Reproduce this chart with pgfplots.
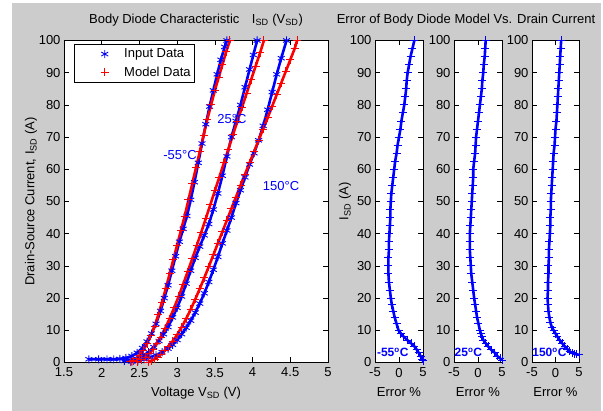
\documentclass[border=0pt]{standalone}
\usepackage{fontspec}
\setmainfont{Liberation Sans}
\usepackage{pgfplots}
\pgfplotsset{compat=1.18}
\definecolor{figgray}{RGB}{204,204,204}
\pgfplotsset{
  matl/.style={
    scale only axis, anchor=south west,
    axis background/.style={fill=white},
    tick align=inside, tick pos=both, ticklabel pos=left,
    major tick length=5pt,
    axis line style={line width=0.6pt},
    every tick/.style={black, line width=0.6pt},
    font=\fontsize{13}{15}\selectfont,
    /pgf/number format/assume math mode=true,
    xticklabel style={yshift=-2pt},
    ymin=0, ymax=100, ytick={0,10,...,100},
    height=322pt,
  },
  inp/.style={blue, mark=asterisk, mark size=4pt, line width=2.6pt, mark options={line width=0.9pt}},
  mdl/.style={red, mark=+, mark size=4pt, line width=2.6pt, mark options={line width=0.9pt}},
  err/.style={blue, mark=+, mark size=4pt, line width=2.6pt, mark options={line width=0.9pt}},
}
\begin{document}
\begin{tikzpicture}[x=1pt,y=1pt]
\useasboundingbox (0pt,0pt) rectangle (603pt,411pt);
\fill[white] (0pt,0pt) rectangle (603pt,411pt);
\fill[figgray] (12pt,0pt) rectangle (601pt,408pt);

\node[font=\fontsize{13}{15}\selectfont] at (196pt,391pt) {Body Diode Characteristic\hspace{9pt} I\textsubscript{SD} (V\textsubscript{SD})};
\node[font=\fontsize{13}{15}\selectfont] at (466pt,391pt) {Error of Body Diode Model Vs. Drain Current};

\begin{axis}[matl, at={(64pt,48.5pt)}, width=264pt,
  xmin=1.5, xmax=5, xtick={1.5,2,...,5},
  xlabel={Voltage V\textsubscript{SD} (V)},
  xlabel style={at={(axis description cs:0.5,-0.106)}, anchor=base},
  ylabel={Drain-Source Current, I\textsubscript{SD} (A)},
  ylabel style={at={(axis description cs:-0.125,0.5)}, anchor=center},
  legend style={at={(axis description cs:0.038,0.989)}, anchor=north west,
    draw=black, fill=white, line width=0.6pt, font=\fontsize{13}{15}\selectfont,
    inner xsep=2pt, inner ysep=2.5pt, row sep=3.5pt, cells={anchor=west}},
  legend image code/.code={\path (0pt,0pt) (45pt,0pt); \draw[#1] plot coordinates {(28pt,0pt)};},
]
\addlegendimage{blue, mark=asterisk, mark size=4pt, line width=0.9pt}
\addlegendentry{Input Data}
\addlegendimage{red, mark=+, mark size=4pt, line width=0.9pt}
\addlegendentry{Model Data}
% -55 C input
\addplot[inp, forget plot] coordinates {
(1.83,1)(1.96,1)(2.07,1)(2.16,1)(2.24,1.1)(2.32,1.4)(2.40,2.0)(2.47,3.0)(2.54,4.5)(2.60,6.5)
(2.66,9)(2.72,12)(2.78,16)(2.83,20)(2.88,24)(2.93,28.5)(2.98,33)(3.03,37.5)(3.08,41.5)(3.13,45.5)
(3.18,50.5)(3.23,56)(3.28,62)(3.33,68)(3.38,74)(3.43,79.5)(3.48,84.5)(3.53,89.5)(3.58,94)(3.63,98)(3.66,100)};
% 25 C input
\addplot[inp, forget plot] coordinates {
(2.30,0.5)(2.38,0.8)(2.46,1.2)(2.54,2.0)(2.62,3.2)(2.69,4.8)(2.76,6.7)(2.82,8.8)(2.88,11)(2.94,14)
(3.00,17)(3.06,20.5)(3.12,24.5)(3.18,28.5)(3.24,32.5)(3.30,36)(3.36,39.5)(3.42,43)(3.48,47.5)(3.54,52.5)
(3.60,58)(3.66,64)(3.72,70)(3.78,75)(3.84,80)(3.90,85.5)(3.96,91)(4.01,95.5)(4.06,100)};
% 150 C input
\addplot[inp, forget plot] coordinates {
(2.40,0.3)(2.48,0.6)(2.56,1.0)(2.64,1.6)(2.72,2.3)(2.80,3.2)(2.88,4.3)(2.94,5.5)(3.00,7)(3.06,8.8)
(3.12,10.8)(3.18,13)(3.24,15.5)(3.30,18.3)(3.36,21.5)(3.42,25)(3.48,28.8)(3.54,32.8)(3.60,37)(3.66,41)
(3.72,45)(3.78,49.5)(3.84,53.5)(3.90,57.5)(3.96,61.5)(4.02,65)(4.08,69)(4.14,73.5)(4.20,78.5)(4.26,84)
(4.32,89.5)(4.38,94.5)(4.45,100)};
% -55 C model
\addplot[mdl, forget plot] coordinates {
(2.38,0.2)(2.42,0.6)(2.46,1.2)(2.50,2.2)(2.55,3.8)(2.60,5.8)(2.65,8.3)(2.70,11.3)(2.75,14.8)(2.80,18.8)
(2.85,23)(2.90,27.5)(2.95,32)(3.00,36.5)(3.05,41)(3.10,45.5)(3.15,50.5)(3.20,55.5)(3.25,60.5)(3.30,65.5)
(3.35,70.5)(3.40,75.5)(3.45,80)(3.50,84.5)(3.55,88.5)(3.60,92.5)(3.65,96.5)(3.70,100)};
% 25 C model
\addplot[mdl, forget plot] coordinates {
(2.48,0.2)(2.53,0.8)(2.58,1.6)(2.63,2.7)(2.68,4.1)(2.73,5.9)(2.78,7.9)(2.84,10.6)(2.90,13.6)(2.96,17)
(3.02,20.5)(3.08,24.3)(3.14,28.2)(3.20,32.2)(3.26,36.3)(3.32,40.5)(3.38,44.7)(3.44,49)(3.50,53.3)(3.56,57.6)
(3.62,62)(3.68,66.3)(3.74,70.7)(3.80,75)(3.86,79.3)(3.92,83.5)(3.98,87.8)(4.04,92)(4.10,96.2)(4.15,100)};
% 150 C model
\addplot[mdl, forget plot] coordinates {
(2.62,0.1)(2.66,0.5)(2.70,1.0)(2.74,1.7)(2.78,2.5)(2.83,3.6)(2.88,4.9)(2.94,6.6)(3.00,8.6)(3.06,11)
(3.12,13.6)(3.18,16.5)(3.24,19.6)(3.30,22.9)(3.36,26.3)(3.42,29.8)(3.48,33.4)(3.54,37)(3.60,40.6)(3.66,44.2)
(3.72,47.8)(3.78,51.4)(3.84,55)(3.90,58.5)(3.96,62)(4.02,65.5)(4.08,69)(4.14,72.5)(4.20,76)(4.26,79.6)
(4.32,83.2)(4.38,86.8)(4.44,90.4)(4.50,94)(4.56,97.6)(4.59,100)};
\node[text=blue, font=\fontsize{13}{15}\selectfont] at (axis cs:3.727,75.5) {25°C};
\node[text=blue, font=\fontsize{13}{15}\selectfont] at (axis cs:3.038,64.3) {-55°C};
\node[text=blue, font=\fontsize{13}{15}\selectfont] at (axis cs:4.377,54.7) {150°C};
\end{axis}

\begin{axis}[matl, at={(375pt,48.5pt)}, width=48pt,
  xmin=-5, xmax=5, xtick={-5,0,5},
  xlabel={Error \%},
  xlabel style={at={(axis description cs:0.5,-0.105)}, anchor=base},
  ylabel={I\textsubscript{SD} (A)},
  ylabel style={at={(axis description cs:-0.625,0.5)}, anchor=center},
]
\addplot[err] coordinates {
(5.0,0.5)(4.8,1)(4.5,2)(4.1,3)(3.7,4)(3.2,5)(2.5,6)(1.7,7)(1.0,8)(0.4,9)(-0.1,10)(-0.5,12)(-0.9,14)
(-1.2,16)(-1.5,18)(-1.7,20)(-1.9,22.5)(-2.1,25)(-2.2,27.5)(-2.2,30)(-2.2,32.5)(-2.1,35)(-2.1,37.5)
(-2.0,40)(-1.9,42.5)(-1.8,45)(-1.8,47.5)(-1.7,50)(-1.6,52.5)(-1.4,55)(-1.2,57.5)(-1.0,60)(-0.8,62.5)
(-0.5,65)(-0.3,67.5)(0.0,70)(0.3,72.5)(0.5,75)(0.8,77.5)(1.1,80)(1.3,82.5)(1.5,85)(1.6,87.5)(1.8,90)
(2.1,92.5)(2.4,95)(2.8,97.5)(3.2,100)};
\node[text=blue, font=\fontsize{12}{14}\selectfont\bfseries] at (axis cs:-1.3,3.2) {-55\textsuperscript{o}C};
\end{axis}

\begin{axis}[matl, at={(454pt,48.5pt)}, width=48pt,
  xmin=-5, xmax=5, xtick={-5,0,5},
  xlabel={Error \%},
  xlabel style={at={(axis description cs:0.5,-0.105)}, anchor=base},
]
\addplot[err] coordinates {
(5.0,0.7)(4.6,1.3)(4.0,2)(3.5,3)(2.7,4)(2.1,5)(1.6,6)(1.1,7)(0.8,8)(0.6,9)(0.4,10)(0.1,12)(-0.2,14)
(-0.4,16)(-0.6,18)(-0.8,20)(-1.0,22.5)(-1.2,25)(-1.4,27.5)(-1.5,30)(-1.6,32.5)(-1.7,35)(-1.7,37.5)
(-1.7,40)(-1.6,42.5)(-1.5,45)(-1.4,47.5)(-1.3,50)(-1.2,52.5)(-1.1,55)(-1.0,57.5)(-1.0,60)(-0.8,62.5)
(-0.6,65)(-0.5,67.5)(-0.4,70)(-0.2,72.5)(0.0,75)(0.2,77.5)(0.4,80)(0.6,82.5)(0.8,85)(0.9,87.5)(1.1,90)
(1.2,92.5)(1.4,95)(1.5,97.5)(1.6,100)};
\node[text=blue, font=\fontsize{12}{14}\selectfont\bfseries] at (axis cs:-2.0,3.2) {25\textsuperscript{o}C};
\end{axis}

\begin{axis}[matl, at={(532pt,48.5pt)}, width=47pt,
  xmin=-5, xmax=5, xtick={-5,0,5},
  xlabel={Error \%},
  xlabel style={at={(axis description cs:0.5,-0.105)}, anchor=base},
]
\addplot[err] coordinates {
(5.0,2.4)(4.5,2.5)(4.0,2.7)(3.5,3.0)(3.0,3.5)(2.5,4.2)(2.0,5)(1.4,6)(0.9,7)(0.4,8)(0,9)(-0.4,10)
(-0.8,11)(-1.1,12.5)(-1.3,14)(-1.5,16)(-1.6,18)(-1.7,20)(-1.6,22.5)(-1.6,25)(-1.5,27.5)(-1.5,30)
(-1.4,32.5)(-1.4,35)(-1.3,37.5)(-1.2,40)(-1.1,42.5)(-1.1,45)(-1.0,47.5)(-1.0,50)(-0.9,52.5)(-0.8,55)
(-0.7,57.5)(-0.6,60)(-0.5,62.5)(-0.4,65)(-0.2,67.5)(-0.1,70)(0.0,72.5)(0.2,75)(0.3,77.5)(0.4,80)
(0.5,82.5)(0.6,85)(0.7,87.5)(0.8,90)(0.9,92.5)(1.0,95)(1.1,97.5)(1.2,100)};
\node[text=blue, font=\fontsize{12}{14}\selectfont\bfseries] at (axis cs:-1.3,3.2) {150\textsuperscript{o}C};
\end{axis}
\end{tikzpicture}
\end{document}
